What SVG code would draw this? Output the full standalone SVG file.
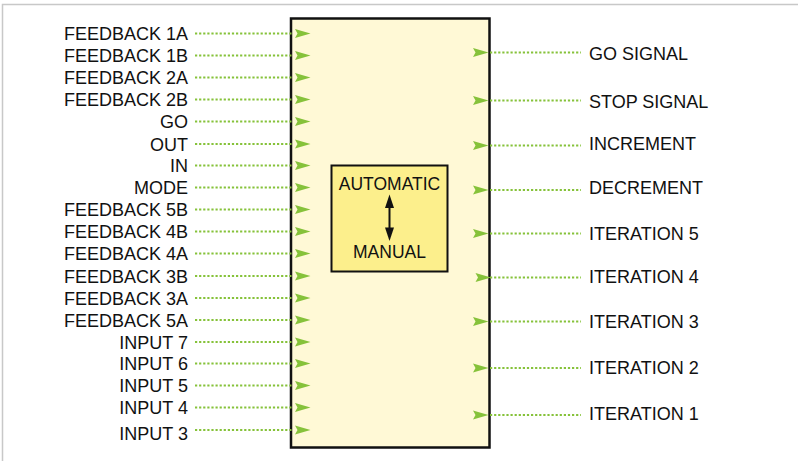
<svg xmlns="http://www.w3.org/2000/svg" width="798" height="461" viewBox="0 0 798 461">
  <style>
    .lbl { font-family: "Liberation Sans", Arial, Helvetica, sans-serif; font-size: 18px; fill: #111; }
    .in { text-anchor: end; }
    .out { text-anchor: start; }
    .mode { font-family: "Liberation Sans", Arial, Helvetica, sans-serif; font-size: 17.5px; fill: #111; text-anchor: middle; }
    .wire { stroke: #86c23a; stroke-width: 2.2; stroke-dasharray: 2.2 1.9; fill: none; }
    .head { fill: #86c23a; }
  </style>
  <defs>
    <polygon id="tri" class="head" points="0,-4.6 15.5,0 0,4.6 2.5,0"/>
  </defs>

  <rect width="798" height="461" fill="#ffffff"/>
  <!-- frame: top and left edges -->
  <path d="M2.5,461 V4.5 H798" fill="none" stroke="#c8c8c8" stroke-width="1.5"/>

  <!-- main controller block -->
  <g id="controller">
    <rect x="291" y="18.5" width="198.5" height="429" fill="#fff9d6" stroke="#111" stroke-width="2.5"/>
  </g>

  <!-- mode selector -->
  <g id="mode-selector">
    <rect x="331.5" y="165.5" width="116" height="106" fill="#fcef8c" stroke="#111" stroke-width="2"/>
    <text class="mode" x="389.5" y="189.5">AUTOMATIC</text>
    <text class="mode" x="389.5" y="257.5">MANUAL</text>
    <line x1="389.5" y1="204" x2="389.5" y2="232" stroke="#111" stroke-width="2"/>
    <polygon points="389.5,194.5 385,208 394,208" fill="#111"/>
    <polygon points="389.5,241 385,227.5 394,227.5" fill="#111"/>
  </g>

  <!-- connectors -->
  <g id="connectors">
    <!-- inputs -->
    <path class="wire" d="M195,33.5H292 M195,55.5H292 M195,77.5H292 M195,99.5H292 M195,121.5H292 M195,144H292 M195,165.5H292 M195,187.5H292 M195,209.5H292 M195,231.5H292 M195,253.5H292 M195,276H292 M195,298H292 M195,320H292 M195,342H292 M195,363.5H292 M195,385.5H292 M195,407.5H292 M195,430H292"/>
    <use href="#tri" x="295" y="33.5"/>
    <use href="#tri" x="295" y="55.5"/>
    <use href="#tri" x="295" y="77.5"/>
    <use href="#tri" x="295" y="99.5"/>
    <use href="#tri" x="295" y="121.5"/>
    <use href="#tri" x="295" y="144"/>
    <use href="#tri" x="295" y="165.5"/>
    <use href="#tri" x="295" y="187.5"/>
    <use href="#tri" x="295" y="209.5"/>
    <use href="#tri" x="295" y="231.5"/>
    <use href="#tri" x="295" y="253.5"/>
    <use href="#tri" x="295" y="276"/>
    <use href="#tri" x="295" y="298"/>
    <use href="#tri" x="295" y="320"/>
    <use href="#tri" x="295" y="342"/>
    <use href="#tri" x="295" y="363.5"/>
    <use href="#tri" x="295" y="385.5"/>
    <use href="#tri" x="295" y="407.5"/>
    <use href="#tri" x="295" y="430"/>
    <!-- outputs -->
    <path class="wire" d="M490,52.5H581 M490,100.5H581 M490,145.5H581 M490,190H581 M490,233.5H581 M490,277.5H581 M490,321.5H581 M490,368H581 M490,415H581"/>
    <use href="#tri" x="473" y="52.5"/>
    <use href="#tri" x="473" y="100.5"/>
    <use href="#tri" x="473" y="145.5"/>
    <use href="#tri" x="473" y="190"/>
    <use href="#tri" x="473" y="233.5"/>
    <use href="#tri" x="475.5" y="277.5"/>
    <use href="#tri" x="473" y="321.5"/>
    <use href="#tri" x="473" y="368"/>
    <use href="#tri" x="473" y="415"/>
  </g>

  <!-- input labels -->
  <g id="inputs">
    <text class="lbl in" x="188" y="40">FEEDBACK 1A</text>
    <text class="lbl in" x="188" y="62">FEEDBACK 1B</text>
    <text class="lbl in" x="188" y="84">FEEDBACK 2A</text>
    <text class="lbl in" x="188" y="106">FEEDBACK 2B</text>
    <text class="lbl in" x="188" y="128">GO</text>
    <text class="lbl in" x="188" y="150.5">OUT</text>
    <text class="lbl in" x="188" y="172">IN</text>
    <text class="lbl in" x="188" y="194">MODE</text>
    <text class="lbl in" x="188" y="216">FEEDBACK 5B</text>
    <text class="lbl in" x="188" y="238">FEEDBACK 4B</text>
    <text class="lbl in" x="188" y="260">FEEDBACK 4A</text>
    <text class="lbl in" x="188" y="282.5">FEEDBACK 3B</text>
    <text class="lbl in" x="188" y="304.5">FEEDBACK 3A</text>
    <text class="lbl in" x="188" y="326.5">FEEDBACK 5A</text>
    <text class="lbl in" x="188" y="348.5">INPUT 7</text>
    <text class="lbl in" x="188" y="370">INPUT 6</text>
    <text class="lbl in" x="188" y="392">INPUT 5</text>
    <text class="lbl in" x="188" y="414">INPUT 4</text>
    <text class="lbl in" x="188" y="440">INPUT 3</text>
  </g>

  <!-- output labels -->
  <g id="outputs">
    <text class="lbl out" x="589" y="59.5">GO SIGNAL</text>
    <text class="lbl out" x="589" y="107.5">STOP SIGNAL</text>
    <text class="lbl out" x="589" y="150">INCREMENT</text>
    <text class="lbl out" x="589" y="194">DECREMENT</text>
    <text class="lbl out" x="589" y="240">ITERATION 5</text>
    <text class="lbl out" x="589" y="283">ITERATION 4</text>
    <text class="lbl out" x="589" y="327.5">ITERATION 3</text>
    <text class="lbl out" x="589" y="374">ITERATION 2</text>
    <text class="lbl out" x="589" y="419.5">ITERATION 1</text>
  </g>
</svg>
